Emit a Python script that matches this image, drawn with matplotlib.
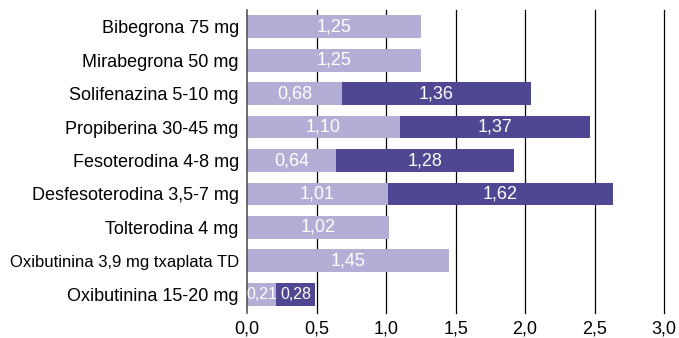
import numpy as np
import matplotlib.pyplot as plt

plt.rcParams['font.family'] = ['Liberation Sans', 'DejaVu Sans']

# datos
farmacos = ['Bibegrona 75 mg', 'Mirabegrona 50 mg', 'Solifenazina 5-10 mg',
            'Propiberina 30-45 mg', 'Fesoterodina 4-8 mg', 'Desfesoterodina 3,5-7 mg',
            'Tolterodina 4 mg', 'Oxibutinina 3,9 mg txaplata TD', 'Oxibutinina 15-20 mg']
serie1 = [1.25, 1.25, 0.68, 1.10, 0.64, 1.01, 1.02, 1.45, 0.21]
serie2 = [0.0, 0.0, 1.36, 1.37, 1.28, 1.62, 0.0, 0.0, 0.28]
xticks = [0.0, 0.5, 1.0, 1.5, 2.0, 2.5, 3.0]

claro = '#b3aed6'
oscuro = '#4f4792'

fig = plt.figure(figsize=(6.79, 3.38), dpi=100)
ax = fig.add_axes([0.364, 0.075, 0.614, 0.895])

y = np.arange(len(farmacos))
ax.barh(y, serie1, height=0.68, color=claro, zorder=2)
ax.barh(y, serie2, left=serie1, height=0.68, color=oscuro, zorder=2)

def fmt(v):
    return f"{v:.2f}".replace('.', ',')

for i in range(len(farmacos)):
    tam = 11.5 if i == len(farmacos) - 1 else 13
    ax.text(serie1[i] / 2, y[i], fmt(serie1[i]), color='white', ha='center',
            va='center', fontsize=tam, zorder=3)
    if serie2[i] > 0:
        ax.text(serie1[i] + serie2[i] / 2, y[i], fmt(serie2[i]), color='white',
                ha='center', va='center', fontsize=tam, zorder=3)

ax.set_ylim(len(farmacos) - 0.45, -0.5)
ax.set_xlim(0, 3.0)
ax.set_yticks(y)
ax.set_yticklabels(farmacos, fontsize=13)
ax.get_yticklabels()[7].set_fontsize(12)
ax.set_xticks(xticks)
ax.set_xticklabels([f"{v:.1f}".replace('.', ',') for v in xticks], fontsize=13)
ax.tick_params(length=0, pad=6)

for v in xticks[1:]:
    ax.axvline(v, color='black', lw=0.9, zorder=1, clip_on=False)

for s in ['top', 'right', 'bottom']:
    ax.spines[s].set_visible(False)
ax.spines['left'].set_color('#555555')
ax.spines['left'].set_linewidth(1.2)

plt.savefig('out.png', dpi=100)
